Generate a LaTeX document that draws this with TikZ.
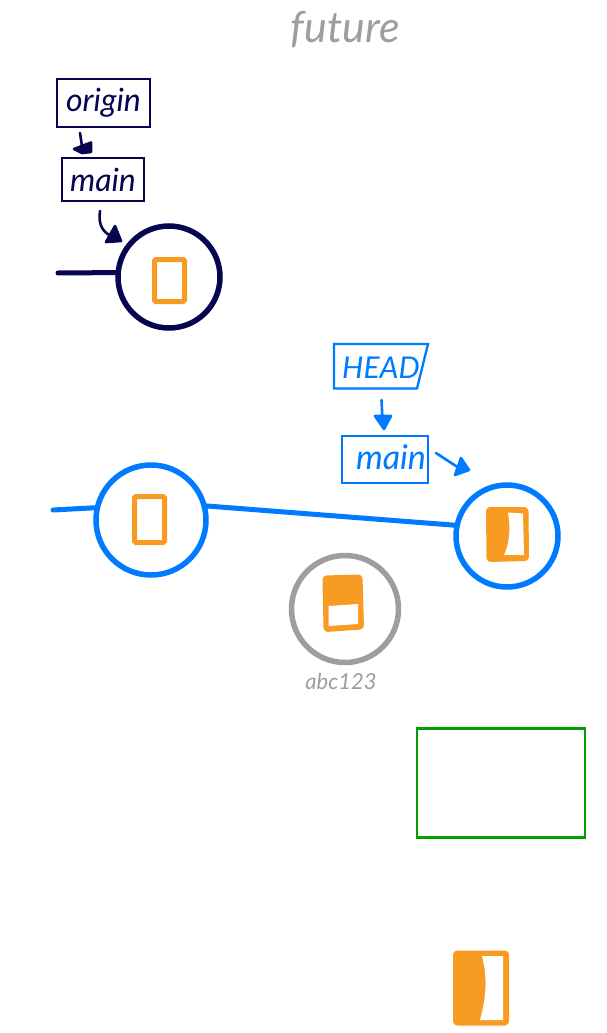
\documentclass[tikz,border=0pt]{standalone}
\usepackage{fontspec}
\setmainfont{Lato}
\definecolor{navy}{HTML}{050550}
\definecolor{bluec}{HTML}{007BFF}
\definecolor{orangec}{HTML}{F79B23}
\definecolor{grayc}{HTML}{9E9E9E}
\definecolor{greenc}{HTML}{00A000}
\tikzset{
  commit/.style={circle,draw=#1,line width=5.5pt,fill=white,inner sep=0pt,minimum size=102pt,outer sep=0pt},
  label box/.style={draw=#1,line width=2.3pt,inner sep=0pt,outer sep=0pt,text=#1},
  cardfill/.style={fill=orangec,draw=orangec,line width=5pt,rounded corners=2pt,line join=round},
  cardline/.style={draw=orangec,line width=5pt,rounded corners=1.5pt,inner sep=0pt},
  hole/.style={fill=white,draw=none},
  branch/.style={line width=5pt},
  hand/.style={line width=2.6pt,line cap=round,line join=round},
  tipshape/.style={fill=#1,draw=#1,line width=2.6pt,line join=round},
  big/.style={font=\itshape\fontsize{32}{32}\selectfont},
}
\begin{document}
\begin{tikzpicture}[x=1pt,y=-1pt]
\useasboundingbox (0,0) rectangle (607,1033);
\fill[white] (0,0) rectangle (607,1033);

% title
\node[text=grayc,font=\itshape\fontsize{43}{43}\selectfont,anchor=center] (title) at (345,30) {future};

% navy part
\node[label box=navy,minimum width=93pt,minimum height=48pt,big] (origin) at (103.5,103) {origin};
\node[label box=navy,minimum width=82pt,minimum height=43pt,big] (mainA) at (103,179.5) {main};
\node[commit=navy] (c0) at (169,277) {};
\coordinate (t0) at (58,273);
\draw[branch,navy,line cap=round] (t0) -- (c0.175.7);
\node[cardline,minimum width=30pt,minimum height=42pt] (card0) at (169.5,280.5) {};
\coordinate (a1s) at (80,133); \coordinate (a1e) at (82,146);
\draw[hand,navy] (a1s) -- (a1e);
\draw[tipshape=navy] (74,149) -- (91,142.5) -- (91,152) -- (82,153) -- cycle;
\coordinate (a2s) at (100,211); \coordinate (a2e) at (111,236);
\draw[hand,navy] (a2s) .. controls (98,225) and (103,232) .. (a2e);
\draw[tipshape=navy] (115,226) -- (121,241) -- (106,242) -- cycle;

% blue part
\node[commit=bluec,minimum size=110pt] (c1) at (151,520) {};
\node[commit=bluec] (c2) at (507,536) {};
\coordinate (t1) at (53,510);
\draw[branch,bluec,line cap=round] (t1) -- (c1.167);
\draw[branch,bluec] (c1.15) -- (c2.168);
\node[cardline,minimum width=30pt,minimum height=46pt] (card1) at (149.5,519.5) {};
\node[text=bluec,font=\itshape\fontsize{30}{30}\selectfont,inner sep=0pt] (headt) at (381,368) {HEAD};
\draw[bluec,line width=2.3pt,line join=miter] (334,344) -- (428,344) -- (417,388.5) -- (334,388.5) -- cycle;
\node[label box=bluec,minimum width=86pt,minimum height=47pt] (mainB) at (385,459.5) {};
\node[text=bluec,font=\itshape\fontsize{34}{34}\selectfont,inner sep=0pt] (mainBt) at (391,457) {main};
\coordinate (a3s) at (381.5,400); \coordinate (a3e) at (382.5,420);
\draw[hand,bluec] (a3s) -- (a3e);
\draw[tipshape=bluec] (375,416) -- (391,416) -- (384,429) -- cycle;
\coordinate (a4s) at (436,453); \coordinate (a4e) at (462,470);
\draw[hand,bluec] (a4s) -- (a4e);
\draw[tipshape=bluec] (461,458) -- (469,470) -- (455,475) -- cycle;

% orange card in the right blue commit
\draw[cardfill] (488.5,509.5) -- (526,509.5) -- (526.5,558.5) -- (489,559.5) -- cycle;
\fill[hole] (508,512.5) .. controls (511,530) and (509,545) .. (504,555) -- (524,555) -- (523,513.5) -- cycle;

% gray commit
\node[commit=grayc,minimum size=107pt] (c3) at (345,609) {};
\draw[cardfill] (325,578) -- (360,577) -- (361.5,627) -- (326,629.5) -- cycle;
\fill[hole] (328.5,606) -- (358,604) -- (358,624) -- (328.5,626) -- cycle;
\node[text=grayc,font=\itshape\fontsize{22}{22}\selectfont] (abc) at (341,681) {abc123};

% green box
\node[draw=greenc,line width=2.3pt,minimum width=168pt,minimum height=109pt,inner sep=0pt,outer sep=0pt] (gbox) at (501,783) {};

% bottom card
\draw[cardfill] (455.5,953) -- (506.5,953) -- (506.5,1023) -- (455.5,1023) -- cycle;
\fill[hole] (482,956) .. controls (487,975) and (487,995) .. (480,1020) -- (503,1020) -- (503,956) -- cycle;
\end{tikzpicture}
\end{document}
